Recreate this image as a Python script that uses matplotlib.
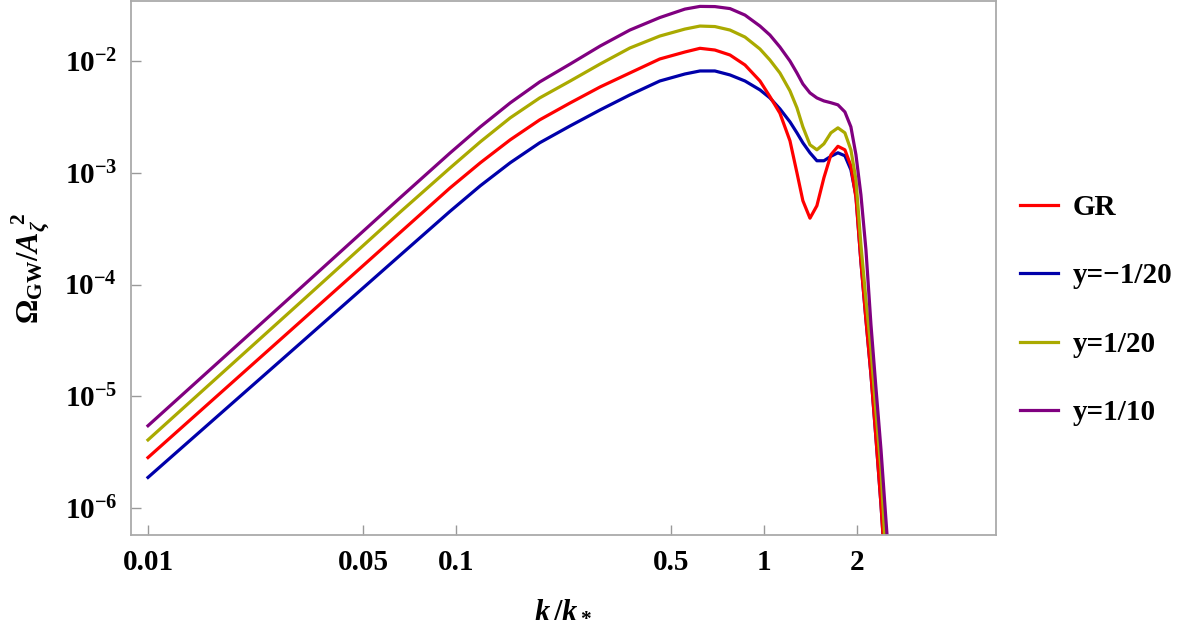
import matplotlib
matplotlib.use('Agg')
import matplotlib.pyplot as plt

k = [0.01, 0.0312, 0.0658, 0.0956, 0.120, 0.150, 0.187, 0.235, 0.294, 0.367, 0.459, 0.554,
     0.620, 0.693, 0.776, 0.868, 0.971, 1.046, 1.127, 1.215, 1.280, 1.338, 1.411, 1.486,
     1.566, 1.650, 1.739, 1.832, 1.916, 1.990, 2.065, 2.144, 2.226, 2.310, 2.399, 2.489, 2.584]

# Omega_GW / A_zeta^2 for each case
om_gr = [2.83e-6, 4.63e-5, 2.91e-4, 7.30e-4, 1.228e-3, 1.970e-3, 2.972e-3, 4.216e-3, 5.86e-3, 7.81e-3,
         1.042e-2, 1.203e-2, 1.298e-2, 1.253e-2, 1.131e-2, 9.21e-3, 6.62e-3, 4.80e-3, 3.41e-3, 1.930e-3,
         9.99e-4, 5.62e-4, 3.92e-4, 5.07e-4, 9.02e-4, 1.447e-3, 1.724e-3, 1.604e-3, 1.154e-3, 5.98e-4,
         1.604e-4, 4.87e-5, 1.571e-5, 4.30e-6, 1.085e-6, 2.32e-7, 5.51e-8]
om_m20 = [1.879e-6, 2.97e-5, 1.822e-4, 4.51e-4, 7.65e-4, 1.228e-3, 1.853e-3, 2.627e-3, 3.65e-3, 4.97e-3,
          6.62e-3, 7.65e-3, 8.14e-3, 8.14e-3, 7.50e-3, 6.62e-3, 5.51e-3, 4.67e-3, 3.73e-3, 2.852e-3,
          2.275e-3, 1.853e-3, 1.508e-3, 1.280e-3, 1.280e-3, 1.404e-3, 1.508e-3, 1.418e-3, 1.063e-3, 6.23e-4,
          1.604e-4, 4.87e-5, 1.571e-5, 4.30e-6, 1.085e-6, 2.32e-7, 4.97e-8]
om_p20 = [4.07e-6, 6.89e-5, 4.43e-4, 1.101e-3, 1.891e-3, 3.097e-3, 4.67e-3, 6.62e-3, 9.40e-3, 1.306e-2,
          1.671e-2, 1.930e-2, 2.053e-2, 2.032e-2, 1.891e-2, 1.637e-2, 1.279e-2, 1.020e-2, 7.81e-3, 5.40e-3,
          3.81e-3, 2.574e-3, 1.778e-3, 1.604e-3, 1.815e-3, 2.275e-3, 2.522e-3, 2.275e-3, 1.604e-3, 8.66e-4,
          2.275e-4, 7.34e-5, 2.63e-5, 7.34e-6, 2.23e-6, 3.50e-7, 6.77e-8]
om_p10 = [5.45e-6, 9.24e-5, 5.96e-4, 1.499e-3, 2.574e-3, 4.216e-3, 6.494e-3, 9.40e-3, 1.361e-2, 1.891e-2,
          2.445e-2, 2.912e-2, 3.078e-2, 3.066e-2, 2.942e-2, 2.574e-2, 2.053e-2, 1.706e-2, 1.333e-2, 9.99e-3,
          7.81e-3, 6.23e-3, 5.18e-3, 4.67e-3, 4.39e-3, 4.23e-3, 4.05e-3, 3.50e-3, 2.574e-3, 1.447e-3,
          6.36e-4, 2.053e-4, 4.39e-5, 1.203e-5, 3.36e-6, 7.97e-7, 1.89e-7]

labels = ['GR', 'y=\u22121/20', 'y=1/20', 'y=1/10']
colors = ['#ff0000', '#0000aa', '#aaaa00', '#800080']

x_ticks = [0.01, 0.05, 0.1, 0.5, 1, 2]
x_ticklabels = ['0.01', '0.05', '0.1', '0.5', '1', '2']
y_ticks = [1e-6, 1e-5, 1e-4, 1e-3, 1e-2]
y_ticklabels = [r'$\mathbf{10^{-6}}$', r'$\mathbf{10^{-5}}$', r'$\mathbf{10^{-4}}$',
                r'$\mathbf{10^{-3}}$', r'$\mathbf{10^{-2}}$']

plt.rcParams['font.family'] = ['Liberation Serif', 'DejaVu Serif']
plt.rcParams['font.weight'] = 'bold'
plt.rcParams['mathtext.fontset'] = 'custom'
plt.rcParams['mathtext.rm'] = 'Liberation Serif:bold'
plt.rcParams['mathtext.bf'] = 'Liberation Serif:bold'
plt.rcParams['mathtext.it'] = 'Liberation Serif:italic:bold'

fig = plt.figure(figsize=(12, 6.25), dpi=100)
ax = fig.add_axes([0.1092, 0.144, 0.7208, 0.8544])

# blue sits under red where they overlap
zorders = [2.2, 2.1, 2.3, 2.4]
for om, lab, c, z in zip([om_gr, om_m20, om_p20, om_p10], labels, colors, zorders):
    ax.plot(k, om, color=c, lw=2.3, label=lab, zorder=z, solid_joinstyle='round')

ax.set_xscale('log')
ax.set_yscale('log')
ax.set_xlim(0.00881, 5.67)
ax.set_ylim(5.74e-7, 3.44e-2)

ax.set_xticks(x_ticks)
ax.set_xticklabels(x_ticklabels)
ax.set_yticks(y_ticks)
ax.set_yticklabels(y_ticklabels)
ax.minorticks_off()
ax.tick_params(direction='in', length=7, width=1, color='#999999', labelsize=21, pad=10)

for s in ax.spines.values():
    s.set_color('#aaaaaa')
    s.set_linewidth(1.3)

ax.set_xlabel(r'$k\,/k_*$', fontsize=22, labelpad=14)
ax.set_ylabel(r'$\Omega_{\rm GW}/A_\zeta^{\ 2}$', fontsize=22, labelpad=8)

fig.legend(loc='center left', bbox_to_anchor=(0.85, 0.504), frameon=False, fontsize=21,
           handlelength=1.3, handletextpad=0.5, labelspacing=1.42, borderpad=0, borderaxespad=0)

fig.savefig('out.png', dpi=100)
